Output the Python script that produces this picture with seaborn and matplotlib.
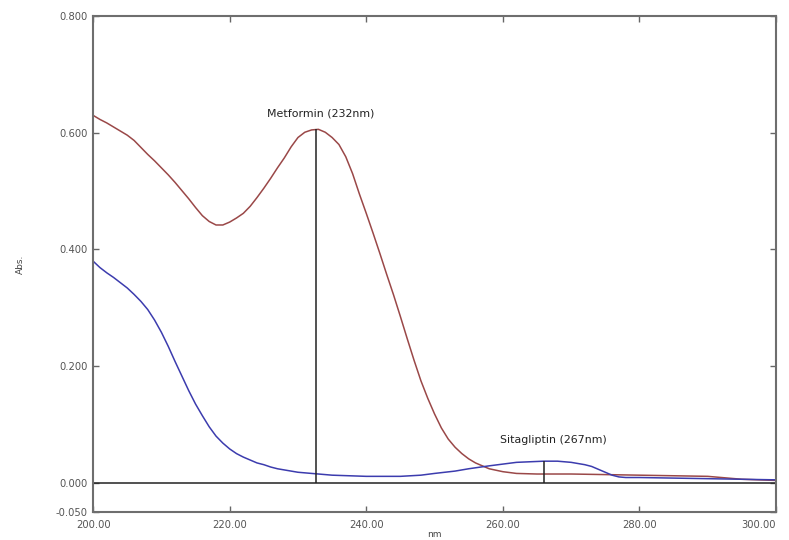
import numpy as np
import pandas as pd
import matplotlib
matplotlib.use("Agg")
import matplotlib.pyplot as plt
import seaborn as sns

# Espectros UV (nm, absorbancia)
wl_metformina = [200, 201, 202, 203, 204, 205, 206, 207, 208, 209, 210, 211, 212, 213,
                 214, 215, 216, 217, 218, 219, 220, 221, 222, 223, 224, 225, 226, 227,
                 228, 229, 230, 231, 232, 233, 234, 235, 236, 237, 238, 239, 240, 241,
                 242, 243, 244, 245, 246, 247, 248, 249, 250, 251, 252, 253, 254, 255,
                 256, 257, 258, 260, 262, 265, 270, 275, 280, 285, 290, 295, 300]
abs_metformina = [0.630, 0.623, 0.617, 0.610, 0.603, 0.596, 0.587, 0.575, 0.563, 0.552,
                  0.540, 0.528, 0.515, 0.501, 0.487, 0.472, 0.458, 0.448, 0.442, 0.442,
                  0.447, 0.454, 0.462, 0.474, 0.489, 0.505, 0.522, 0.540, 0.557, 0.576,
                  0.592, 0.601, 0.605, 0.606, 0.601, 0.592, 0.580, 0.559, 0.530, 0.495,
                  0.462, 0.428, 0.393, 0.357, 0.322, 0.285, 0.247, 0.210, 0.175, 0.145,
                  0.118, 0.094, 0.075, 0.061, 0.050, 0.041, 0.034, 0.029, 0.024, 0.019,
                  0.016, 0.015, 0.015, 0.014, 0.013, 0.012, 0.011, 0.006, 0.004]

wl_sitagliptina = [200, 201, 202, 203, 204, 205, 206, 207, 208, 209, 210, 211, 212, 213,
                   214, 215, 216, 217, 218, 219, 220, 221, 222, 223, 224, 225, 226, 227,
                   228, 229, 230, 232, 235, 240, 245, 248, 250, 253, 255, 258, 260, 262,
                   264, 266, 268, 270, 272, 273, 274, 275, 276, 277, 278, 280, 290, 300]
abs_sitagliptina = [0.380, 0.369, 0.360, 0.352, 0.343, 0.334, 0.323, 0.311, 0.297, 0.279,
                    0.258, 0.234, 0.208, 0.183, 0.158, 0.135, 0.115, 0.096, 0.080, 0.068,
                    0.058, 0.050, 0.044, 0.039, 0.034, 0.031, 0.027, 0.024, 0.022, 0.020,
                    0.018, 0.016, 0.013, 0.011, 0.011, 0.013, 0.016, 0.020, 0.024, 0.029,
                    0.032, 0.035, 0.036, 0.037, 0.037, 0.035, 0.031, 0.028, 0.023, 0.018,
                    0.013, 0.010, 0.009, 0.009, 0.007, 0.005]

picos_nm = [232.6, 266.1]
picos_abs = [0.606, 0.037]
etiquetas = ["Metformin (232nm)", "Sitagliptin (267nm)"]
etiqueta_pos = [(233.4, 0.633), (267.4, 0.074)]

xticks = [200, 220, 240, 260, 280, 300]
yticks = [-0.050, 0.000, 0.200, 0.400, 0.600, 0.800]

df = pd.concat([
    pd.DataFrame({"nm": wl_metformina, "Abs": abs_metformina, "serie": "Metformin"}),
    pd.DataFrame({"nm": wl_sitagliptina, "Abs": abs_sitagliptina, "serie": "Sitagliptin"}),
])

sns.set_style("white")
plt.rcParams["font.family"] = ["DejaVu Sans"]

fig = plt.figure(figsize=(7.89, 5.40), dpi=100)
ax = fig.add_axes([0.118, 0.052, 0.8655, 0.918])

sns.lineplot(data=df, x="nm", y="Abs", hue="serie",
             palette={"Metformin": "#9a4848", "Sitagliptin": "#3c3cae"},
             linewidth=1.1, legend=False, ax=ax, estimator=None)

ax.axhline(0, color="#222222", linewidth=1.1)
ax.vlines(picos_nm, 0, picos_abs, color="#222222", linewidth=1.1)
for txt, (x, y) in zip(etiquetas, etiqueta_pos):
    ax.text(x, y, txt, ha="center", va="center", fontsize=7.9, color="#222222")

ax.set_xlim(200, 300)
ax.set_ylim(-0.05, 0.8)
ax.set_xticks(xticks)
ax.set_yticks(yticks)
ax.set_xticklabels([f"{t:.2f}" for t in xticks])
ax.set_yticklabels([f"{t:.3f}" for t in yticks])
ax.tick_params(direction="in", length=4, width=1, colors="#666666",
               labelsize=7.2, labelcolor="#555555",
               top=True, right=True, bottom=True, left=True)
ax.tick_params(axis="x", pad=6)
ax.tick_params(axis="y", pad=4)
# la última etiqueta del eje x se alinea a la derecha para que no se corte
ax.get_xticklabels()[-1].set_horizontalalignment("right")

for s in ax.spines.values():
    s.set_color("#6e6e6e")
    s.set_linewidth(1.5)

ax.set_xlabel("nm", fontsize=6.5, color="#444444")
ax.xaxis.set_label_coords(0.5, -0.036)
ax.set_ylabel("Abs.", fontsize=6.5, color="#444444")
ax.yaxis.set_label_coords(-0.1, 0.5)

fig.savefig("out.png", dpi=100, facecolor="white")
